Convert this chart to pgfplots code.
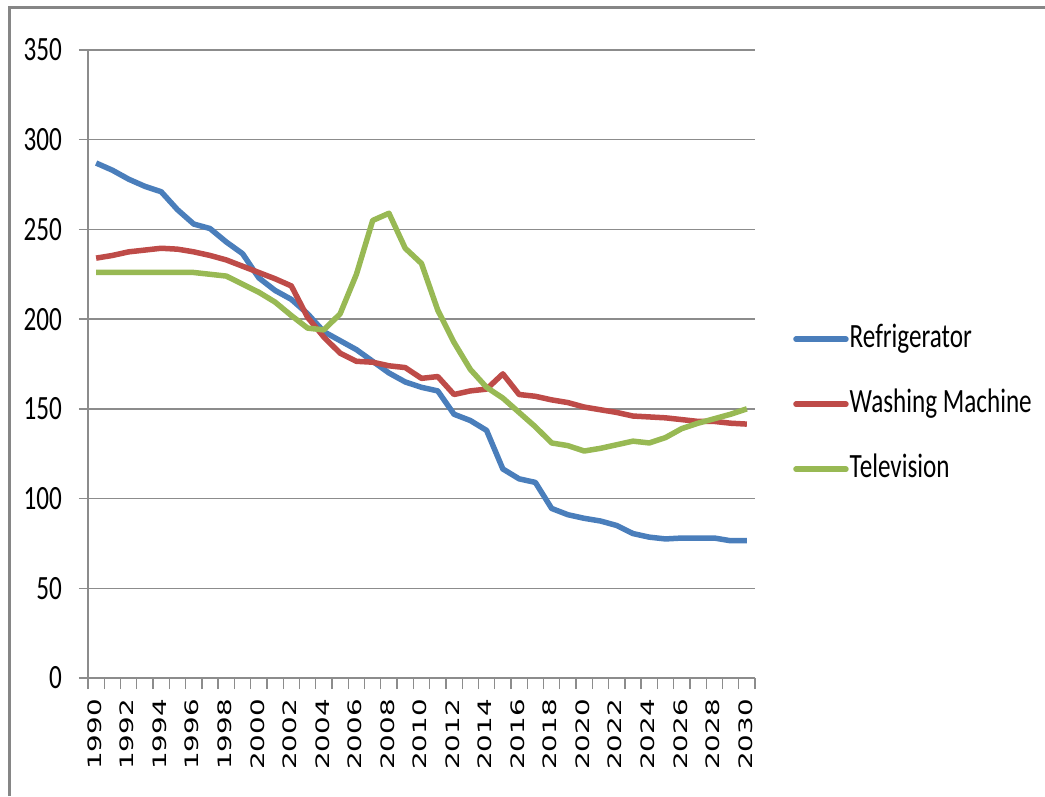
\documentclass[border=0pt]{standalone}
\usepackage{fontspec}
\usepackage{graphicx}
\usepackage{pgfplots}
\pgfplotsset{compat=1.18}
\newfontfamily\calib{Carlito}[FakeStretch=0.74]
\newfontfamily\dejavu{DejaVu Sans}
\definecolor{cBlue}{HTML}{4A7EBB}
\definecolor{cRed}{HTML}{BE4B48}
\definecolor{cGreen}{HTML}{98B954}
\definecolor{cGrid}{HTML}{8C8C8C}
\definecolor{cBorder}{HTML}{868686}
\newcommand{\yl}[1]{\scalebox{1.5}[1]{#1}}
\begin{document}
\begin{tikzpicture}[x=1pt,y=1pt]
\useasboundingbox (0,0) rectangle (1045,796);
\draw[line width=3pt, cBorder] (9,0) -- (9,788) -- (1045,788);
\begin{axis}[
  at={(88pt,118pt)}, anchor=south west,
  scale only axis, width=667pt, height=628pt,
  xmin=-0.5, xmax=40.5, ymin=0, ymax=350,
  axis x line*=bottom, axis y line*=left,
  axis line style={-, cGrid, line width=1.3pt},
  ytick={0,50,...,350},
  ymajorgrids, grid style={cGrid, line width=1.3pt},
  xtick={0,2,...,40},
  xticklabels={\yl{1990},\yl{1992},\yl{1994},\yl{1996},\yl{1998},\yl{2000},\yl{2002},\yl{2004},\yl{2006},\yl{2008},\yl{2010},\yl{2012},\yl{2014},\yl{2016},\yl{2018},\yl{2020},\yl{2022},\yl{2024},\yl{2026},\yl{2028},\yl{2030}},
  minor xtick={-0.5,0.5,...,40.5},
  tick align=outside,
  major tick length=9pt,
  minor tick length=11pt,
  major x tick style={draw=none},
  tick style={cGrid, line width=1.3pt},
  yticklabel style={font=\calib\fontsize{34}{34}\selectfont, inner sep=0pt, xshift=-17pt},
  xticklabel style={font=\dejavu\fontsize{18.5}{18.5}\selectfont, rotate=90, anchor=east, inner sep=0pt, xshift=-12pt, yshift=1.5pt},
  /pgf/number format/assume math mode=true,
  legend cell align=left,
  legend style={draw=none, fill=none, at={(1.057,0.436)}, anchor=west,
    font=\calib\fontsize{34}{34}\selectfont, inner sep=0pt, row sep=31pt,
    nodes={inner sep=1pt, text height=24pt, text depth=8pt}},
  legend image code/.code={\draw[#1, line cap=round] (0pt,0pt) -- (50pt,0pt);},
  every axis plot/.append style={line width=5.5pt, line join=round},
]
\addplot[cBlue] coordinates {
(0,287)(1,283)(2,278)(3,274)(4,271)(5,261)(6,253)(7,250.5)(8,243)(9,236.5)
(10,223)(11,216)(12,211)(13,203)(14,193)(15,188)(16,183)(17,176.5)(18,170)(19,165)
(20,162)(21,160)(22,147)(23,143.5)(24,138)(25,116.5)(26,111)(27,109)(28,94.5)(29,91)
(30,89)(31,87.5)(32,85)(33,80.5)(34,78.5)(35,77.5)(36,78)(37,78)(38,78)(39,76.5)(40,76.5)};
\addlegendentry{Refrigerator}
\addplot[cRed] coordinates {
(0,234)(1,235.5)(2,237.5)(3,238.5)(4,239.5)(5,239)(6,237.5)(7,235.5)(8,233)(9,229.5)
(10,226)(11,222.5)(12,218.5)(13,201)(14,190)(15,181)(16,176.5)(17,176)(18,174)(19,173)
(20,167)(21,168)(22,158)(23,160)(24,161)(25,169.5)(26,158)(27,157)(28,155)(29,153.5)
(30,151)(31,149.5)(32,148)(33,146)(34,145.5)(35,145)(36,144)(37,143)(38,143)(39,142)(40,141.5)};
\addlegendentry{Washing Machine}
\addplot[cGreen] coordinates {
(0,226)(1,226)(2,226)(3,226)(4,226)(5,226)(6,226)(7,225)(8,224)(9,219.5)
(10,215)(11,209.5)(12,202)(13,195)(14,194)(15,203)(16,225)(17,255)(18,259)(19,239.5)
(20,231)(21,205)(22,187)(23,172)(24,162)(25,156)(26,148)(27,140)(28,131)(29,129.5)
(30,126.5)(31,128)(32,130)(33,132)(34,131)(35,134)(36,139)(37,142)(38,144.5)(39,147)(40,150)};
\addlegendentry{Television}
\end{axis}
\end{tikzpicture}
\end{document}
